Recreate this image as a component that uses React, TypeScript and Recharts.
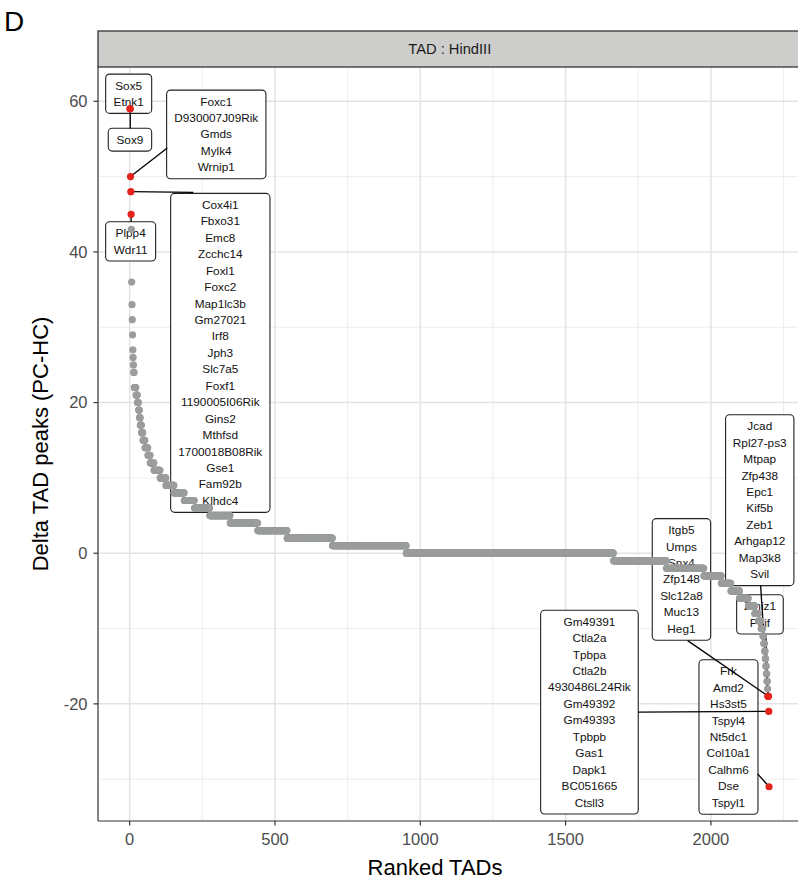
import React from 'react';
import {
  ComposedChart,
  Scatter,
  XAxis,
  YAxis,
  CartesianGrid,
  ReferenceDot,
  ReferenceLine,
} from 'recharts';

// ---- data ----
const topHighlightValues = [59, 59, 50, 48, 45];
const greyRunValues = [
  43, 36, 33, 31, 29, 27, 26, 25, 24, 22, 21, 20, 19, 18, 17, 16, 15, 14, 13, 12,
  11, 10, 9, 8, 7, 6, 5, 4, 3, 2, 1, 0, -1, -2, -3, -4, -5, -6, -7, -8, -9, -10,
  -11, -12, -13, -14, -15, -16, -17, -18,
];
const greyRunCounts = [
  1, 1, 1, 1, 1, 1, 1, 1, 2, 6, 5, 4, 3, 3, 4, 5, 7, 10, 8, 13,
  21, 20, 28, 35, 35, 53, 70, 95, 101, 156, 254, 713, 182, 129, 60, 33, 30, 30, 22, 13, 9, 6,
  3, 3, 2, 2, 2, 2, 2, 1,
];
const bottomHighlightValues = [-19, -19, -19, -21, -31];

const xTicks = [0, 500, 1000, 1500, 2000];
const xMinor = [250, 750, 1250, 1750, 2250];
const yTicks = [-20, 0, 20, 40, 60];
const yMinor = [-30, -10, 10, 30, 50];

const labelRanks = [1, 2, 3, 4, 5, 2196, 2197, 2198, 2199, 2200];
const labelGenes = [
  ['Sox5', 'Etnk1'],
  ['Sox9'],
  ['Foxc1', 'D930007J09Rik', 'Gmds', 'Mylk4', 'Wrnip1'],
  ['Cox4i1', 'Fbxo31', 'Emc8', 'Zcchc14', 'Foxl1', 'Foxc2', 'Map1lc3b', 'Gm27021', 'Irf8', 'Jph3',
    'Slc7a5', 'Foxf1', '1190005I06Rik', 'Gins2', 'Mthfsd', '1700018B08Rik', 'Gse1', 'Fam92b', 'Klhdc4'],
  ['Plpp4', 'Wdr11'],
  ['Jcad', 'Rpl27-ps3', 'Mtpap', 'Zfp438', 'Epc1', 'Kif5b', 'Zeb1', 'Arhgap12', 'Map3k8', 'Svil'],
  ['Zmiz1', 'Ppif'],
  ['Itgb5', 'Umps', 'Snx4', 'Zfp148', 'Slc12a8', 'Muc13', 'Heg1'],
  ['Gm49391', 'Ctla2a', 'Tpbpa', 'Ctla2b', '4930486L24Rik', 'Gm49392', 'Gm49393', 'Tpbpb', 'Gas1',
    'Dapk1', 'BC051665', 'Ctsll3'],
  ['Frk', 'Amd2', 'Hs3st5', 'Tspyl4', 'Nt5dc1', 'Col10a1', 'Calhm6', 'Dse', 'Tspyl1'],
];

// ---- label layout (repelled positions, in data units; box width in px) ----
const labelLayout = [
  { bx: -3.4, by: 61.0, w: 46, sx: null, sy: null },
  { bx: 1.0, by: 54.9, w: 43.4, sx: 2, sy: 56.4 },
  { bx: 298, by: 55.6, w: 99.3, sx: 129.4, sy: 53.8 },
  { bx: 311.9, by: 26.6, w: 99.3, sx: 218.8, sy: 47.9 },
  { bx: 3.4, by: 41.4, w: 50, sx: 5, sy: 44.0 },
  { bx: 2168, by: 7.04, w: 68.3, sx: 2171, sy: -4.3 },
  { bx: 2168.7, by: -8.12, w: 46.6, sx: 2189, sy: -10.7 },
  { bx: 1898.6, by: -3.48, w: 58.4, sx: 1920, sy: -11.6 },
  { bx: 1582, by: -21.1, w: 97.6, sx: 1750, sy: -21.1 },
  { bx: 2060.4, by: -24.4, w: 59, sx: 2160.8, sy: -29.3 },
];

// ---- build table ----
const rankedValues: number[] = [...topHighlightValues];
greyRunValues.forEach((v, i) => {
  for (let k = 0; k < greyRunCounts[i]; k++) rankedValues.push(v);
});
bottomHighlightValues.forEach((v) => rankedValues.push(v));
const allPoints = rankedValues.map((value, i) => ({ rank: i + 1, value }));
const nTop = topHighlightValues.length;
const nBottom = bottomHighlightValues.length;
const greyPoints = allPoints.slice(nTop, allPoints.length - nBottom);
const redPoints = [...allPoints.slice(0, nTop), ...allPoints.slice(allPoints.length - nBottom)];

const FONT = '"Liberation Sans", Arial, Helvetica, sans-serif';
const X_DOMAIN: [number, number] = [-108.95, 2309.95];
const Y_DOMAIN: [number, number] = [-35.55, 64.55];
const LINE_H = 16.45;

const GreyDot = (p: any) => <circle cx={p.cx} cy={p.cy} r={3.6} fill="#9a9d9b" />;
const RedDot = (p: any) => <circle cx={p.cx} cy={p.cy} r={3.6} fill="#e3231c" />;

const makeBox = (genes: string[], w: number) => (p: any) => {
  const h = genes.length * LINE_H + 6.4;
  const top = p.cy - h / 2;
  return (
    <g>
      <rect x={p.cx - w / 2} y={top} width={w} height={h} rx={4} ry={4} fill="#ffffff" stroke="#222" strokeWidth={1.1} />
      {genes.map((g, i) => (
        <text
          key={g}
          x={p.cx}
          y={top + 3.2 + LINE_H * (i + 0.5)}
          textAnchor="middle"
          dominantBaseline="central"
          fontSize={11.8}
          fontFamily={FONT}
          fill="#111"
        >
          {g}
        </text>
      ))}
    </g>
  );
};

export default function App() {
  return (
    <div style={{ position: 'fixed', left: 0, top: 0, width: 798, height: 879, overflow: 'hidden', background: '#fff' }}>
      <ComposedChart
        width={801}
        height={879}
        margin={{ top: 67, right: 0, bottom: 28, left: 38 }}
        style={{ position: 'absolute', left: 0, top: 0 }}
      >
        <CartesianGrid verticalValues={xMinor} horizontalValues={yMinor} stroke="#ebebeb" strokeWidth={0.9} />
        <CartesianGrid verticalValues={xTicks} horizontalValues={yTicks} stroke="#e3e3e3" strokeWidth={1.5} />
        <XAxis
          type="number"
          dataKey="rank"
          domain={X_DOMAIN}
          allowDataOverflow
          ticks={xTicks}
          interval={0}
          height={30}
          tickSize={4.5}
          tickMargin={8}
          axisLine={{ stroke: '#333', strokeWidth: 1.2 }}
          tickLine={{ stroke: '#333', strokeWidth: 1.2 }}
          tick={{ fill: '#4d4d4d', fontSize: 16.5, fontFamily: FONT }}
        />
        <YAxis
          type="number"
          dataKey="value"
          domain={Y_DOMAIN}
          allowDataOverflow
          ticks={yTicks}
          interval={0}
          width={60}
          tickSize={4.5}
          tickMargin={6}
          axisLine={{ stroke: '#333', strokeWidth: 1.2 }}
          tickLine={{ stroke: '#333', strokeWidth: 1.2 }}
          tick={{ fill: '#4d4d4d', fontSize: 16.5, fontFamily: FONT }}
        />
        {labelLayout.map((l, i) => (
          <ReferenceDot
            key={'box' + i}
            x={l.bx}
            y={l.by}
            r={1}
            zIndex={550}
            ifOverflow="visible"
            shape={makeBox(labelGenes[i], l.w)}
          />
        ))}
        {labelLayout.map((l, i) =>
          l.sx === null ? null : (
            <ReferenceLine
              key={'seg' + i}
              zIndex={560}
              ifOverflow="visible"
              segment={[
                { x: labelRanks[i], y: rankedValues[labelRanks[i] - 1] },
                { x: l.sx, y: l.sy },
              ]}
              stroke="#000"
              strokeWidth={1.3}
            />
          )
        )}
        <Scatter data={greyPoints} dataKey="value" isAnimationActive={false} shape={GreyDot} zIndex={600} />
        <Scatter data={redPoints} dataKey="value" isAnimationActive={false} shape={RedDot} zIndex={610} />
      </ComposedChart>
      <svg width={798} height={879} style={{ position: 'absolute', left: 0, top: 0, pointerEvents: 'none' }}>
        <text x={4} y={31} fontSize={28} fontFamily={FONT} fill="#000">D</text>
        <rect x={98} y={31} width={720} height={36} fill="#cdcecc" stroke="#333" strokeWidth={1.3} />
        <text x={449.8} y={49} textAnchor="middle" dominantBaseline="central" fontSize={14.7} fontFamily={FONT} fill="#1a1a1a">
          TAD : HindIII
        </text>
        <text x={435} y={875} textAnchor="middle" fontSize={22} fontFamily={FONT} fill="#000">
          Ranked TADs
        </text>
        <text
          x={0}
          y={0}
          transform="translate(48,444) rotate(-90)"
          textAnchor="middle"
          fontSize={22}
          fontFamily={FONT}
          fill="#000"
        >
          Delta TAD peaks (PC-HC)
        </text>
      </svg>
    </div>
  );
}
